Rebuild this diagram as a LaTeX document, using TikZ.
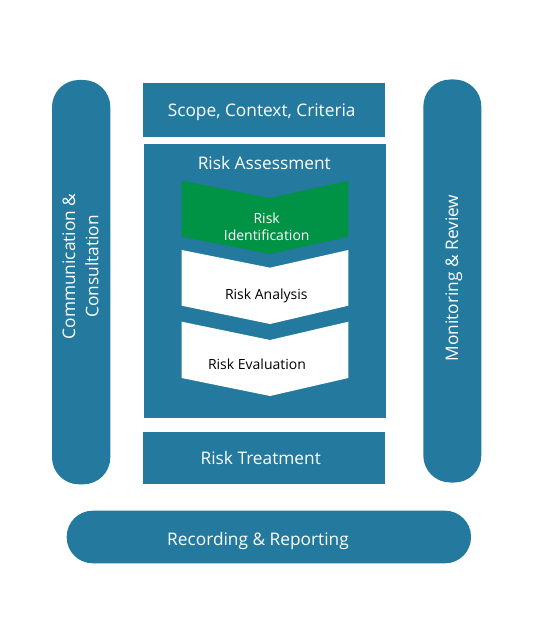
\documentclass[tikz,border=0pt]{standalone}
\usepackage{fontspec}
\setmainfont{Open Sans}
\definecolor{isoblue}{HTML}{237A9E}
\definecolor{isogreen}{HTML}{009245}
\begin{document}
\begin{tikzpicture}[x=1pt,y=-1pt,
  box/.style={fill=isoblue, inner sep=0pt},
  pill/.style={box, rounded corners=27pt},
  lbl/.style={inner sep=0pt, align=center, font=\fontsize{17.3}{23.3}\selectfont, text=white},
  chevlbl/.style={inner sep=0pt, align=center, font=\fontsize{14}{16.7}\selectfont}
]
\useasboundingbox (0,0) rectangle (544,636);
\fill[white] (0,0) rectangle (544,636);
% side pills
\node[pill, minimum width=58.3pt, minimum height=404.3pt] (comm) at (81.15,282.15) {};
\node[lbl, rotate=90] (commlbl) at (80.5,266.5) {Communication \&\\Consultation};
\node[pill, minimum width=58pt, minimum height=403pt] (mon) at (452.3,281) {};
\node[lbl, rotate=90, anchor=base] (monlbl) at (458,278) {Monitoring \& Review};
% central boxes
\node[box, minimum width=242.3pt, minimum height=53.4pt] (scope) at (263.85,110) {};
\node[lbl, anchor=base] (scopelbl) at (261.7,116.7) {Scope, Context, Criteria};
\node[box, minimum width=242.5pt, minimum height=274.3pt] (assess) at (264.75,281.15) {};
\node[lbl, anchor=base] (assesslbl) at (264.3,170) {Risk Assessment};
\node[box, minimum width=242.3pt, minimum height=52.6pt] (treat) at (263.85,458) {};
\node[lbl, anchor=base] (treatlbl) at (260.8,464) {Risk Treatment};
\node[pill, rounded corners=26pt, minimum width=404.3pt, minimum height=52.6pt] (rec) at (268.85,537) {};
\node[lbl, anchor=base] (reclbl) at (258,545) {Recording \& Reporting};
% chevrons
\fill[isogreen] (181.7,180.7) -- (270,198) -- (348.3,180.7) -- (348.3,236.7) -- (270,254) -- (181.7,236.7) -- cycle;
\node[chevlbl, text=white] (ident) at (266.7,227) {Risk\\Identification};
\fill[white] (181.7,250) -- (270,267.7) -- (348.3,250) -- (348.3,305.7) -- (270,324) -- (181.7,305.7) -- cycle;
\node[chevlbl, text=black, anchor=base] (anal) at (266.3,299.3) {Risk Analysis};
\fill[white] (181.7,321.7) -- (270,340) -- (348.3,321.7) -- (348.3,378) -- (270,396) -- (181.7,378) -- cycle;
\node[chevlbl, text=black, anchor=base] (eval) at (257,369.3) {Risk Evaluation};
\end{tikzpicture}
\end{document}
